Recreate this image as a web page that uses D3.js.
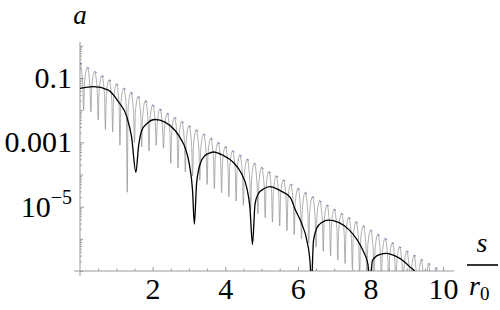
<!DOCTYPE html>
<html><head><meta charset="utf-8">
<script src="https://cdn.jsdelivr.net/npm/d3@7"></script>
<style>
body{margin:0;background:#fff;}
svg{display:block;}
</style></head><body>
<svg id="chart" width="500" height="310"></svg>
<script>
// ---- data ----
const xTicks = [2, 4, 6, 8, 10];
const xMinorTicks = [0.5, 1, 1.5, 2.5, 3, 3.5, 4.5, 5, 5.5, 6.5, 7, 7.5, 8.5, 9, 9.5];
const yTicks = [1e-1, 1e-3, 1e-5];
const yTickLabels = ["0.1", "0.001", "10|−5"];

// dashed envelope
const envS = [0, 10.3];
const envA = [0.29, 6.0e-8];

// gray oscillating curve: lobe tops, spike positions, spike shoulders, spike bottoms
const grayPeakS = [0,0.2,0.4,0.6,0.8,1,1.2,1.4,1.6,1.8,2,2.2,2.4,2.6,2.8,3,3.2,3.4,3.6,3.8,4,4.2,4.4,4.6,4.8,5,5.2,5.4,5.6,5.8,6,6.2,6.4,6.6,6.8,7,7.2,7.4,7.6,7.8,8,8.2,8.4,8.6,8.8,9,9.2,9.4,9.6,9.8,10];
const grayPeakA = [0.288,0.214,0.159,0.118,0.0873,0.0647,0.048,0.0356,0.0264,0.0196,0.0145,0.0108,0.00798,0.00593,0.0044,0.00326,0.00242,0.00179,0.00133,9.86e-4,7.31e-4,5.42e-4,4.02e-4,2.98e-4,2.21e-4,1.64e-4,1.22e-4,9.02e-5,6.7e-5,4.97e-5,3.68e-5,2.73e-5,2.02e-5,1.5e-5,1.11e-5,8.26e-6,6.12e-6,4.54e-6,3.37e-6,2.5e-6,1.85e-6,1.37e-6,1.02e-6,7.57e-7,5.61e-7,4.16e-7,3.08e-7,2.29e-7,1.7e-7,1.26e-7,9.3e-8];
const grayDipS = [0.1,0.3,0.5,0.7,0.9,1.1,1.3,1.5,1.7,1.9,2.1,2.3,2.5,2.7,2.9,3.1,3.3,3.5,3.7,3.9,4.1,4.3,4.5,4.7,4.9,5.1,5.3,5.5,5.7,5.9,6.1,6.3,6.5,6.7,6.9,7.1,7.3,7.5,7.7,7.9,8.1,8.3,8.5,8.7,8.9,9.1,9.3,9.5,9.7,9.9];
const grayShoulderA = [0.07,0.0519,0.0385,0.0286,0.0212,0.0157,0.0116,0.00863,0.00641,0.00475,0.00352,0.00261,0.00194,0.00144,0.00107,7.91e-4,5.86e-4,4.35e-4,3.23e-4,2.39e-4,1.77e-4,1.32e-4,9.75e-5,7.24e-5,5.37e-5,3.98e-5,2.95e-5,2.19e-5,1.63e-5,1.21e-5,8.93e-6,6.62e-6,4.91e-6,3.65e-6,2.7e-6,2.0e-6,1.49e-6,1.1e-6,8.18e-7,6.07e-7,4.5e-7,3.33e-7,2.47e-7,1.84e-7,1.36e-7,1.01e-7,7.5e-8,5.5e-8,4.1e-8,3.1e-8];
const grayDipA = [1.0e-2,8.9e-3,5.0e-3,2.5e-3,2.1e-3,8.1e-4,2.8e-5,9.8e-4,7.2e-4,5.4e-4,8.1e-4,6.5e-4,2.2e-4,1.6e-4,1.2e-4,8.9e-5,6.6e-5,4.9e-5,3.6e-5,2.7e-5,2.0e-5,1.5e-5,1.1e-5,8.1e-6,6.0e-6,4.5e-6,3.3e-6,2.5e-6,1.8e-6,1.35e-6,1.0e-6,7.4e-7,5.5e-7,4.1e-7,3.0e-7,2.2e-7,1.7e-7,1.2e-7,5e-8,5e-8,5e-8,5e-8,5e-8,5e-8,5e-8,5e-8,5e-8,5e-8,5e-8,5e-8];

// black curve
const blackS = [0,0.37,0.78,1.06,1.29,1.42,1.54,1.61,1.70,1.84,2.07,2.34,2.62,2.80,2.89,3.01,3.10,3.15,3.21,3.31,3.44,3.58,3.67,3.95,4.22,4.45,4.59,4.68,4.75,4.82,4.91,5.05,5.23,5.51,5.79,5.92,6.11,6.25,6.34,6.37,6.43,6.52,6.66,6.84,7.12,7.39,7.62,7.80,7.93,7.99,8.05,8.17,8.36,8.45,8.68,8.91,9.09,9.23,9.35];
const blackA = [0.0479,0.0537,0.0422,0.0182,0.00617,0.00148,1.17e-4,7.08e-4,2.34e-3,3.80e-3,5.13e-3,4.27e-3,2.34e-3,1.15e-3,7.08e-4,2.14e-4,3.16e-5,2.88e-6,5.13e-5,2.14e-4,3.89e-4,4.68e-4,5.01e-4,3.89e-4,2.40e-4,1.05e-4,3.98e-5,9.55e-6,6.76e-7,1.20e-5,2.51e-5,3.55e-5,4.22e-5,3.16e-5,1.95e-5,8.51e-6,2.88e-6,8.71e-7,1.62e-7,3.2e-8,8.71e-7,2.14e-6,3.24e-6,3.80e-6,3.24e-6,2.00e-6,9.77e-7,4.17e-7,1.62e-7,3.2e-8,2.04e-7,2.95e-7,3.47e-7,3.55e-7,2.95e-7,2.04e-7,1.32e-7,9.3e-8,4.0e-8];

// ---- drawing ----
const FONT = "font-family:'Liberation Serif','DejaVu Serif','Times New Roman',serif;";
const svg = d3.select("#chart");
const x = d3.scaleLinear().domain([0, 10.3]).range([80, 454]);
const y = d3.scaleLog().domain([1e-7, Math.pow(10, 0.12)]).range([271, 42]);

svg.append("defs").append("clipPath").attr("id", "plot")
  .append("rect").attr("x", 80).attr("y", 40).attr("width", 380).attr("height", 231);

// axes lines
const axisColor = "#9a9a9a";
svg.append("line").attr("x1", 80).attr("x2", 80).attr("y1", 42).attr("y2", 276)
  .attr("stroke", axisColor).attr("stroke-width", 1);
svg.append("line").attr("x1", 74).attr("x2", 454).attr("y1", 271).attr("y2", 271)
  .attr("stroke", axisColor).attr("stroke-width", 1);

// x axis ticks
const gx = svg.append("g").attr("transform", "translate(0,271)")
  .call(d3.axisBottom(x).tickValues(xTicks).tickFormat(d3.format("d")).tickSize(-4).tickSizeOuter(0).tickPadding(7));
const gxm = svg.append("g").attr("transform", "translate(0,271)")
  .call(d3.axisBottom(x).tickValues(xMinorTicks).tickFormat("").tickSize(-2.5).tickSizeOuter(0));
[gx, gxm].forEach(g => { g.select(".domain").remove(); g.selectAll("line").attr("stroke", axisColor); });
gx.selectAll("text").attr("style", FONT + "font-size:30px;fill:#000;");

// y axis ticks
const decades = d3.range(-7, 1).map(e => Math.pow(10, e));
const minors = [];
decades.forEach(d => { for (let m = 2; m <= 9; m++) { if (d * m <= y.domain()[1]) minors.push(d * m); } });
const gy = svg.append("g").attr("transform", "translate(80,0)")
  .call(d3.axisLeft(y).tickValues(yTicks).tickSize(-4).tickSizeOuter(0).tickPadding(8)
    .tickFormat(() => ""));
const gyd = svg.append("g").attr("transform", "translate(80,0)")
  .call(d3.axisLeft(y).tickValues(decades.filter(d => !yTicks.includes(d))).tickFormat("").tickSize(-3).tickSizeOuter(0));
const gym = svg.append("g").attr("transform", "translate(80,0)")
  .call(d3.axisLeft(y).tickValues(minors).tickFormat("").tickSize(-1.8).tickSizeOuter(0));
[gy, gyd, gym].forEach(g => { g.select(".domain").remove(); g.selectAll("line").attr("stroke", axisColor); });
gy.selectAll("text").attr("style", FONT + "font-size:30px;fill:#000;")
  .each(function(d, i) {
    const parts = yTickLabels[i].split("|");
    const t = d3.select(this);
    t.text(null);
    t.append("tspan").text(parts[0]);
    if (parts[1]) t.append("tspan").attr("style", "font-size:20px;").attr("dy", "-0.62em").text(parts[1]);
  });

// curves
const plot = svg.append("g").attr("clip-path", "url(#plot)");

const envLine = d3.line().x(d => x(d[0])).y(d => y(d[1]));
plot.append("path").datum(envS.map((s, i) => [s, envA[i]]))
  .attr("d", envLine).attr("fill", "none").attr("stroke", "#5a5ab4").attr("stroke-width", 0.9)
  .attr("stroke-dasharray", "2.4,5.97");

const grayPts = [];
grayPeakS.forEach((s, k) => {
  grayPts.push([s, grayPeakA[k]]);
  if (k < grayDipS.length) {
    grayPts.push([grayDipS[k] - 0.025, grayShoulderA[k]]);
    grayPts.push([grayDipS[k], grayDipA[k]]);
    grayPts.push([grayDipS[k] + 0.025, grayShoulderA[k]]);
  }
});
const curveLine = d3.line().x(d => x(d[0])).y(d => y(d[1])).curve(d3.curveMonotoneX);
plot.append("path").datum(grayPts).attr("d", curveLine)
  .attr("fill", "none").attr("stroke", "#8c8c8c").attr("stroke-width", 0.7);

plot.append("path").datum(blackS.map((s, i) => [s, blackA[i]])).attr("d", curveLine)
  .attr("fill", "none").attr("stroke", "#000").attr("stroke-width", 1.3);

// axis labels
svg.append("text").attr("x", 80).attr("y", 24).attr("text-anchor", "middle")
  .attr("style", FONT + "font-size:27px;font-style:italic;fill:#000;").text("a");
svg.append("text").attr("x", 482).attr("y", 252).attr("text-anchor", "middle")
  .attr("style", FONT + "font-size:28px;font-style:italic;fill:#000;").text("s");
svg.append("line").attr("x1", 467).attr("x2", 498).attr("y1", 265).attr("y2", 265)
  .attr("stroke", "#000").attr("stroke-width", 1.6);
const r0 = svg.append("text").attr("x", 469).attr("y", 295).attr("style", FONT + "font-size:28px;fill:#000;");
r0.append("tspan").attr("style", "font-style:italic;").text("r");
r0.append("tspan").attr("style", "font-size:19px;").attr("dy", 5).text("0");
</script>
</body></html>
